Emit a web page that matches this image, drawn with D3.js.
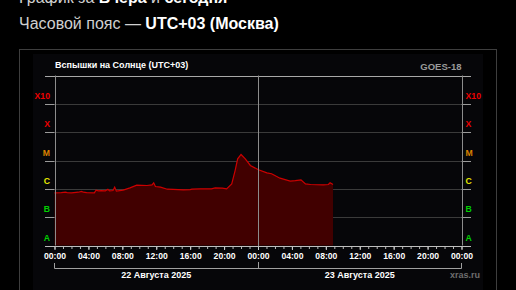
<!DOCTYPE html>
<html>
<head>
<meta charset="utf-8">
<script src="https://cdn.jsdelivr.net/npm/d3@7"></script>
<style>
  html, body { margin: 0; padding: 0; background: #000; }
  svg { display: block; font-family: "Liberation Sans", Arial, sans-serif; }
</style>
</head>
<body>
<div id="chart"></div>
<script>
// Data
// =================================
// hours since 22 Aug 2025 00:00 (UTC+03)
var hours = [0, 0.8, 1.3, 1.5, 2.0, 2.8, 3.2, 3.4, 3.8, 4.7, 4.9, 5.2, 5.5, 6.0, 6.3, 6.5,
  6.9, 7.1, 7.3, 8.1, 8.9, 9.7, 10.9, 11.5, 11.7, 11.9, 12.5, 13.3, 14.0, 15.2, 16.0,
  16.2, 17.2, 18.5, 18.95, 19.8, 20.3, 20.9, 21.3, 21.6, 22.0, 22.5, 23.1, 24.06,
  25.05, 25.6, 26.6, 27.8, 28.4, 29.07, 29.6, 30.2, 31.7, 32.3, 32.5, 32.85];
// X-ray flux, W/m2
var flux = [7.2e-7, 7.3e-7, 7.6e-7, 7.4e-7, 7.2e-7, 7.6e-7, 8.1e-7, 7.6e-7, 7.4e-7, 7.2e-7,
  9.0e-7, 8.5e-7, 8.7e-7, 8.5e-7, 9.7e-7, 8.5e-7, 8.7e-7, 1.15e-6, 8.3e-7, 9.0e-7,
  1.08e-6, 1.35e-6, 1.31e-6, 1.38e-6, 1.63e-6, 1.21e-6, 1.15e-6, 9.7e-7, 9.5e-7, 9.2e-7,
  9.4e-7, 9.7e-7, 1.0e-6, 1.0e-6, 1.08e-6, 1.06e-6, 1.0e-6, 1.5e-6, 4.4e-6, 1.15e-5,
  1.63e-5, 1.15e-5, 6.7e-6, 4.7e-6, 3.67e-6, 3.4e-6, 2.38e-6, 1.87e-6, 1.95e-6, 2.08e-6,
  1.5e-6, 1.42e-6, 1.38e-6, 1.42e-6, 1.63e-6, 1.42e-6];

var classNames  = ["A", "B", "C", "M", "X", "X10"];
var classLevels = [1e-8, 1e-7, 1e-6, 1e-5, 1e-4, 1e-3];
var classColors = ["#00d000", "#00d000", "#e6e600", "#d98200", "#ee0000", "#ee0000"];

var tickLabels = ["00:00", "04:00", "08:00", "12:00", "16:00", "20:00",
  "00:00", "04:00", "08:00", "12:00", "16:00", "20:00", "00:00"];
var dayLabels = ["22 Августа 2025", "23 Августа 2025"];

// Chart setup
// =================================
var svgWidth = 516, svgHeight = 290;

var svg = d3.select("#chart").append("svg")
  .attr("width", svgWidth)
  .attr("height", svgHeight);

svg.append("rect")
  .attr("width", svgWidth).attr("height", svgHeight)
  .attr("fill", "#000");

// header text (first line is cut by the top edge, as in the original)
var head1 = svg.append("text").attr("x", 19).attr("y", 3)
  .attr("font-size", 16).attr("fill", "#d0d0d0");
head1.append("tspan").text("График за ");
head1.append("tspan").attr("font-weight", "bold").attr("fill", "#fff").text("Вчера");
head1.append("tspan").text(" и ");
head1.append("tspan").attr("font-weight", "bold").attr("fill", "#fff").text("сегодня");

var head2 = svg.append("text").attr("x", 19).attr("y", 29)
  .attr("font-size", 16).attr("fill", "#d0d0d0");
head2.append("tspan").text("Часовой пояс — ");
head2.append("tspan").attr("font-weight", "bold").attr("fill", "#fff").text("UTC+03 (Москва)");

// frame and panel
svg.append("rect")
  .attr("x", 19.5).attr("y", 49.5)
  .attr("width", 477).attr("height", 260)
  .attr("fill", "#000").attr("stroke", "#3e3e3e");

svg.append("rect")
  .attr("x", 33).attr("y", 54)
  .attr("width", 450).attr("height", 250)
  .attr("fill", "#060609");

// Scales
// =================================
var x = d3.scaleLinear().domain([0, 48]).range([54.5, 461.5]);
var y = d3.scaleLog().domain([1e-8, 1e-2]).range([245.5, 75.5]);

var data = hours.map((h, i) => ({ h: h, f: flux[i] }));

// grid lines
svg.append("g").selectAll("line")
  .data(classLevels.slice(1))
  .enter().append("line")
    .attr("x1", x(0)).attr("x2", x(48))
    .attr("y1", d => Math.round(y(d)) + 0.5)
    .attr("y2", d => Math.round(y(d)) + 0.5)
    .attr("stroke", "#3a3a3a");

// flux area and line
svg.append("path")
  .datum(data)
  .attr("fill", "#410000")
  .attr("d", d3.area().x(d => x(d.h)).y0(y(1e-8)).y1(d => y(d.f)));

svg.append("path")
  .datum(data)
  .attr("fill", "none")
  .attr("stroke", "#cc0000")
  .attr("stroke-width", 1.2)
  .attr("d", d3.line().x(d => x(d.h)).y(d => y(d.f)));

// level ticks on both sides
var sideTicks = svg.append("g");
classLevels.slice(1).forEach(function(v) {
  var yy = Math.round(y(v)) + 0.5;
  sideTicks.append("line").attr("x1", 45).attr("x2", x(0)).attr("y1", yy).attr("y2", yy)
    .attr("stroke", "#9a9a9a");
  sideTicks.append("line").attr("x1", x(48)).attr("x2", 471).attr("y1", yy).attr("y2", yy)
    .attr("stroke", "#9a9a9a");
});

// top line and vertical lines
svg.append("line")
  .attr("x1", 45).attr("x2", 471)
  .attr("y1", Math.round(y(1e-2)) + 0.5).attr("y2", Math.round(y(1e-2)) + 0.5)
  .attr("stroke", "#a8a8a8");

svg.append("g").selectAll("line")
  .data([0, 24, 48])
  .enter().append("line")
    .attr("x1", d => Math.round(x(d)) + 0.5).attr("x2", d => Math.round(x(d)) + 0.5)
    .attr("y1", y(1e-2)).attr("y2", d => d === 24 ? 249 : y(1e-8))
    .attr("stroke", "#8c8c8c");

// class labels
var labels = svg.append("g")
  .attr("font-weight", "bold")
  .attr("font-size", 8.7);

labels.selectAll("text.left")
  .data(classNames)
  .enter().append("text")
    .attr("x", 50)
    .attr("y", (d, i) => y(classLevels[i]) - 5)
    .attr("text-anchor", "end")
    .attr("fill", (d, i) => classColors[i])
    .text(d => d);

labels.selectAll("text.right")
  .data(classNames)
  .enter().append("text")
    .attr("x", 465.5)
    .attr("y", (d, i) => y(classLevels[i]) - 5)
    .attr("fill", (d, i) => classColors[i])
    .text(d => d);

// Bottom axis
// =================================
var axisY = Math.round(y(1e-8)) + 0.5;

var minorAxis = d3.axisBottom(x)
  .tickValues(d3.range(0, 49, 1))
  .tickSize(2.5)
  .tickFormat("");

var majorAxis = d3.axisBottom(x)
  .tickValues(d3.range(0, 49, 4))
  .tickSize(3.5)
  .tickPadding(3)
  .tickFormat((d, i) => tickLabels[i]);

svg.append("g")
  .attr("transform", `translate(0, ${axisY})`)
  .call(minorAxis)
  .call(g => g.select(".domain").remove())
  .call(g => g.selectAll("line").attr("stroke", "#bbb"));

svg.append("g")
  .attr("transform", `translate(0, ${axisY})`)
  .call(majorAxis)
  .call(g => g.select(".domain").remove())
  .call(g => g.selectAll("line").attr("stroke", "#ccc"))
  .call(g => g.selectAll("text")
    .attr("fill", "#fff")
    .attr("font-size", 8.6)
    .attr("font-weight", "bold")
    .attr("font-family", "Liberation Sans, Arial, sans-serif"));

svg.append("line")
  .attr("x1", 45).attr("x2", 471)
  .attr("y1", axisY).attr("y2", axisY)
  .attr("stroke", "#bdbdbd");

// day bracket
svg.append("path")
  .attr("d", `M${x(0)},263 V268.5 H${x(48)} V263 M${Math.round(x(24)) + 0.5},262 V268.5`)
  .attr("fill", "none")
  .attr("stroke", "#a0a0a0");

svg.append("g").selectAll("text")
  .data(dayLabels)
  .enter().append("text")
    .attr("x", (d, i) => x(12 + 24 * i))
    .attr("y", 277.5)
    .attr("text-anchor", "middle")
    .attr("font-size", 9)
    .attr("font-weight", "bold")
    .attr("fill", "#fff")
    .text(d => d);

svg.append("text")
  .attr("x", 480).attr("y", 277.5)
  .attr("text-anchor", "end")
  .attr("font-size", 9).attr("font-weight", "bold")
  .attr("fill", "#6e6e6e")
  .text("xras.ru");

// chart titles
svg.append("text")
  .attr("x", 55).attr("y", 68)
  .attr("font-size", 9).attr("font-weight", "bold")
  .attr("fill", "#fff")
  .text("Вспышки на Солнце (UTC+03)");

svg.append("text")
  .attr("x", 461.5).attr("y", 69.5)
  .attr("text-anchor", "end")
  .attr("font-size", 9.5).attr("font-weight", "bold")
  .attr("fill", "#9a9a9a")
  .text("GOES-18");
</script>
</body>
</html>
